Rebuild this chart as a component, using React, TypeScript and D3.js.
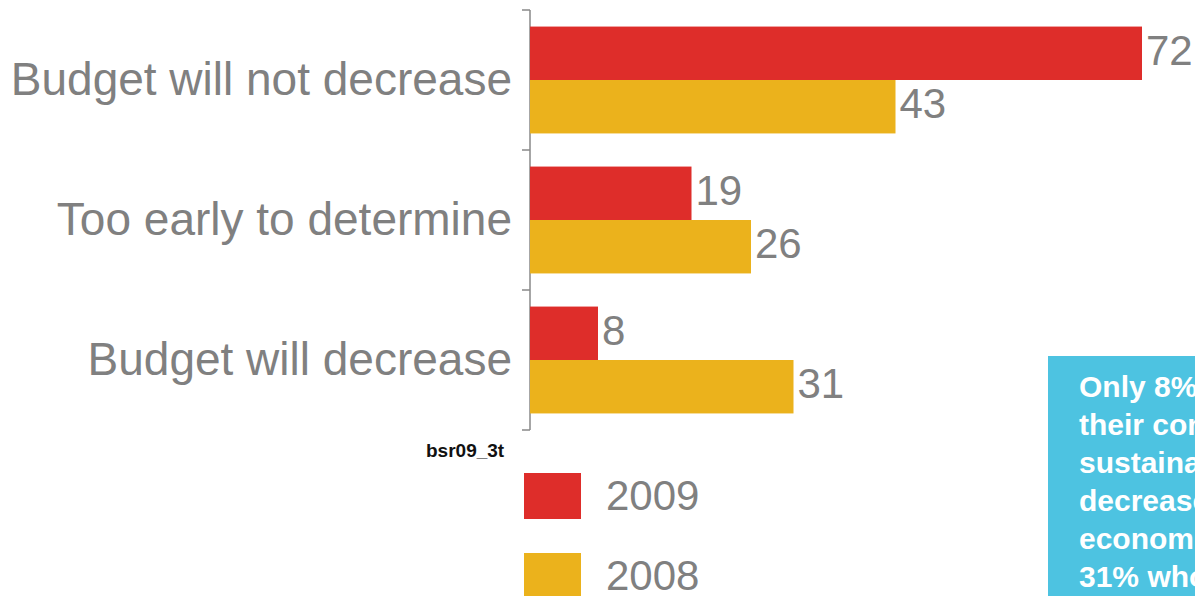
import React from "react";
import * as d3 from "d3";

const categories = ["Budget will not decrease", "Too early to determine", "Budget will decrease"];
const seriesNames = ["2009", "2008"];
const values2009 = [72, 19, 8];
const values2008 = [43, 26, 31];
const seriesColors = ["#DE2D2A", "#EBB21C"];
const calloutLines = [
  "Only 8% expect",
  "their company's",
  "sustainability",
  "decrease in the",
  "economic crisis;",
  "31% who said so",
];
const sourceTag = "bsr09_3t";

export default function App() {
  const W = 1195;
  const H = 596;
  const x0 = 530;
  const x = d3.scaleLinear().domain([0, 72]).range([x0, 1142]);
  const y = d3.scaleBand().domain(categories).range([10, 430]).padding(0);
  const inner = d3
    .scaleBand()
    .domain(seriesNames)
    .range([0, y.bandwidth()])
    .paddingInner(0)
    .paddingOuter(0.31);
  const seriesValues = [values2009, values2008];
  const gray = "#808080";
  const font = "'Liberation Sans', Arial, Helvetica, sans-serif";

  return (
    <svg
      width={W}
      height={H}
      style={{ position: "absolute", left: 0, top: 0, background: "#fff", overflow: "hidden" }}
      fontFamily={font}
    >
      {/* axis */}
      <line x1={x0} x2={x0} y1={y.range()[0]} y2={y.range()[1]} stroke="#888" strokeWidth={1.5} />
      {[...categories.map((c) => y(c)!), y.range()[1]].map((ty, i) => (
        <line key={i} x1={x0 - 8} x2={x0} y1={ty} y2={ty} stroke="#888" strokeWidth={1.5} />
      ))}
      {categories.map((c, ci) => (
        <g key={c}>
          <text
            x={512}
            y={y(c)! + y.bandwidth() / 2 + 15}
            textAnchor="end"
            fontSize={46}
            fill={gray}
          >
            {c}
          </text>
          {seriesNames.map((s, si) => {
            const v = seriesValues[si][ci];
            const by = y(c)! + inner(s)!;
            return (
              <g key={s}>
                <rect
                  x={x0}
                  y={by}
                  width={x(v) - x0}
                  height={inner.bandwidth()}
                  fill={seriesColors[si]}
                />
                <text
                  x={x(v) + 4}
                  y={by + inner.bandwidth() / 2 + 11.5}
                  fontSize={42}
                  fill={gray}
                >
                  {v}
                </text>
              </g>
            );
          })}
        </g>
      ))}
      {/* source tag */}
      <text x={426} y={457} fontSize={19} fontWeight="bold" fill="#111">
        {sourceTag}
      </text>
      {/* legend */}
      {seriesNames.map((s, i) => (
        <g key={s} transform={`translate(524, ${473 + i * 80})`}>
          <rect width={57} height={46} fill={seriesColors[i]} />
          <text x={82} y={37} fontSize={42} fill={gray}>
            {s}
          </text>
        </g>
      ))}
      {/* callout */}
      <rect x={1048} y={356} width={200} height={260} fill="#4DC3E1" />
      {calloutLines.map((l, i) => (
        <text
          key={i}
          x={1079}
          y={397 + i * 38}
          fontSize={30}
          fontWeight="bold"
          fill="#fff"
        >
          {l}
        </text>
      ))}
    </svg>
  );
}
